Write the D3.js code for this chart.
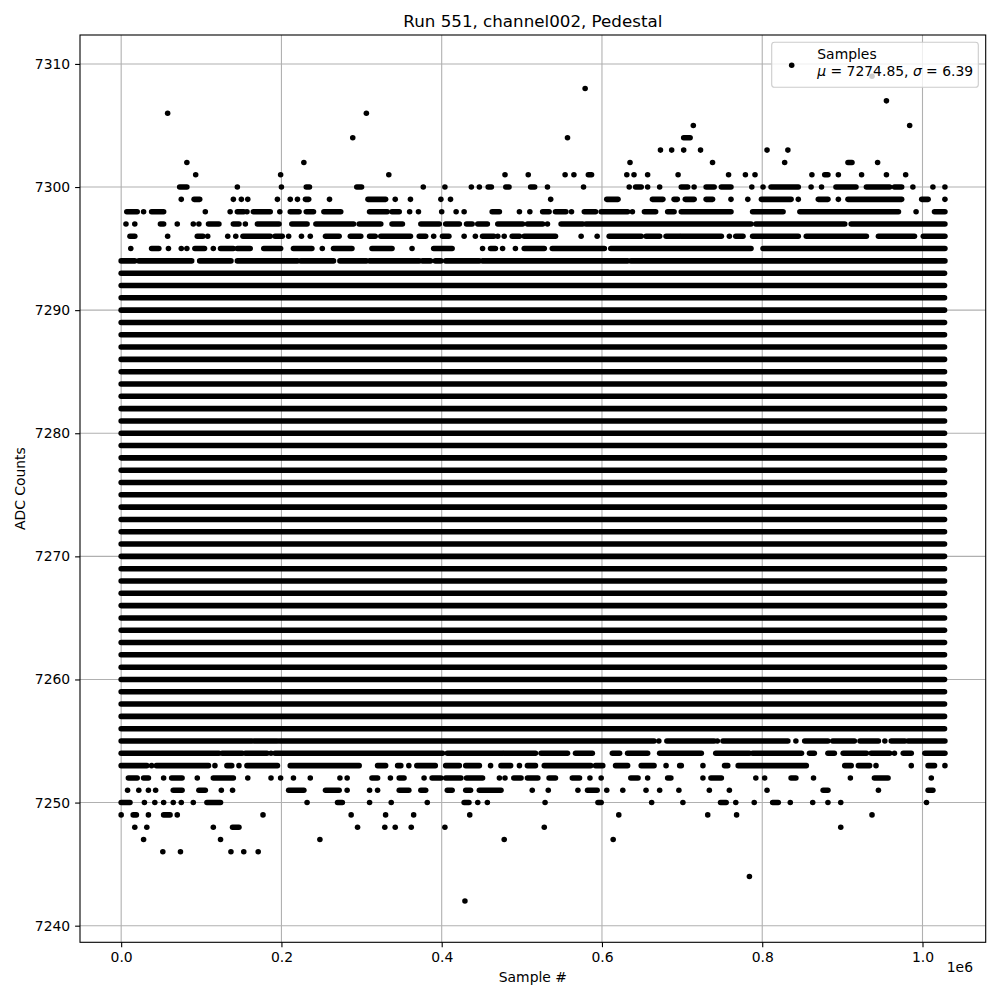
<!DOCTYPE html>
<html>
<head>
<meta charset="utf-8">
<script src="https://cdn.jsdelivr.net/npm/d3@7"></script>
<style>
  html, body { margin: 0; padding: 0; background: #fff; }
  svg { display: block; font-family: "DejaVu Sans", sans-serif; }
</style>
</head>
<body>
<svg id="chart" width="1000" height="1000"></svg>
<script>
// ---------------- DATA ----------------
const titleText = "Run 551, channel002, Pedestal";
const xLabel = "Sample #";
const yLabel = "ADC Counts";
const seriesName = "Samples";
const meanValue = 7274.85;
const sigmaValue = 6.39;

// first and last sample index, in thousands of samples
const sampleRangeK = [0, 1027.5];

// ADC levels that are hit continuously over the whole run
const denseLevels = [7256, 7257, 7258, 7259, 7260, 7261, 7262, 7263, 7264, 7265,
  7266, 7267, 7268, 7269, 7270, 7271, 7272, 7273, 7274, 7275, 7276, 7277, 7278,
  7279, 7280, 7281, 7282, 7283, 7284, 7285, 7286, 7287, 7288, 7289, 7290, 7291,
  7292, 7293];

// ADC levels that are hit only sometimes (sample index in thousands; [a,b] = run of samples)
const sparseLevels = [7309, 7308, 7307, 7306, 7305, 7304, 7303, 7302, 7301, 7300,
  7299, 7298, 7297, 7296, 7295, 7294, 7255, 7254, 7253, 7252, 7251, 7250, 7249,
  7248, 7247, 7246, 7244, 7242];

const sparseSamplesK = [
  [937],
  [579],
  [955],
  [58, 306],
  [714, 984],
  [289, 557, [702, 710]],
  [673, 687, 702, 723, 806, 832],
  [82, 228, 635, 738, 828, [907, 912], 944],
  [93, 199, 334, 479, 508, 554, 565, [583, 587], 631, 640, 657, 695, 758, 779, 791, 862, [878, 882], 895, 924, 955, 979],
  [[73, 82], 145, 200, [231, 235], [294, 300], 377, 404, 437, 447, [458, 462], [480, 484], [511, 516], 532, 577, 634,
   [642, 649], 657, 672, [699, 707], 715, [730, 740], [749, 761], 787, 801, [811, 845], 861, 874, [892, 917], [930, 959],
   [965, 974], 988, 1013, 1028],
  [75, [91, 98], 140, 150, 158, 195, 211, 220, [230, 234], 260, [308, 330], 342, 361, 399, 411, 536, [606, 620], [663, 676],
   [690, 694], [704, 715], [730, 738], 761, 782, [799, 836], 845, [870, 882], 895, [907, 974], [999, 1007], 1028],
  [[7, 20], 28, [38, 53], 105, 136, [145, 153], 157, [165, 186], 198, [211, 222], [231, 240], [253, 274], [310, 332], [338, 347],
   360, 371, 400, 418, 428, [463, 472], 497, 510, [526, 534], [542, 555], 562, [578, 592], [599, 632], 638, [653, 667],
   [682, 690], [699, 761], [788, 826], [847, 970], 992, [1015, 1028]],
  [6, 17, [49, 53], 70, 90, 97, [109, 122], [140, 147], 155, [170, 197], [213, 232], [243, 290], [297, 324], [338, 351],
   [374, 397], [405, 422], [431, 438], [445, 457], [470, 501], [507, 526], 532, [549, 576], [580, 786], [792, 903], [911, 1028]],
  [[11, 17], 58, [95, 102], 108, 133, 143, [152, 186], [192, 201], 209, 225, 236, [255, 272], [286, 299], [310, 317],
   [324, 361], [372, 380], 390, [401, 409], 428, 442, [451, 465], 470, 478, [488, 497], [503, 542], 574, 594, [609, 649],
   [655, 672], [680, 697], [699, 749], 759, [767, 776], [788, 845], [855, 930], [945, 990], [1001, 1028]],
  [12, [38, 47], 59, 75, 82, [92, 104], 115, [124, 140], [145, 161], [178, 199], [215, 238], 251, [265, 288], [313, 338],
   363, [390, 413], 451, [461, 467], 476, 492, [503, 528], [538, 603], [611, 786], [801, 1028]],
  [[0, 17], [22, 88], [98, 137], [145, 220], [224, 265], [273, 306], [310, 372], [376, 386], [392, 399], [405, 447],
   [451, 632], [636, 1028]],
  [[0, 163], [166, 195], [198, 665], 671, [681, 740], 744, [751, 832], 842, [853, 882], [888, 915], [922, 945], 953,
   [961, 978], [982, 1028]],
  [[0, 122], [126, 151], [155, 182], 187, [192, 401], [407, 476], [478, 517], [524, 557], [567, 588], [613, 622],
   [632, 657], [672, 724], [742, 784], [788, 849], [859, 865], [882, 890], [901, 930], [936, 959], 965, [976, 986], [1003, 1028]],
  [[0, 32], 38, [44, 109], 117, [132, 138], 147, [157, 195], [211, 297], [320, 330], [345, 349], 359, [369, 392], [405, 422],
   [430, 447], 461, [474, 486], 497, [507, 517], [528, 586], [592, 601], [617, 632], [649, 665], 680, [697, 699], 726,
   [753, 757], [770, 855], [903, 911], [920, 934], 942, 986, [1007, 1015], 1028],
  [[9, 20], [28, 34], 53, [63, 76], 95, [115, 140], 158, 187, 199, 215, 236, 273, 282, [313, 320], 336, [347, 353], 378,
   [388, 399], [405, 424], [431, 451], 472, 479, [490, 499], [507, 520], [534, 542], [563, 572], 585, 599, [636, 645], 657,
   [682, 686], 726, [736, 749], 792, 803, [836, 842], 864, 910, [940, 957], 1011],
  [8, 22, 34, 43, [65, 76], [97, 105], 125, 139, [209, 228], [255, 272], 282, 310, 320, [347, 359], [374, 380], [407, 413],
   [430, 436], [447, 474], 513, 533, 570, [582, 594], 606, 626, 655, 672, 696, 734, 759, 806, [876, 882], 945, [1007, 1013]],
  [[0, 11], 29, 42, 53, 65, 75, 90, [107, 124], 232, [270, 276], 310, 337, 382, [428, 434], 445, 457, 529, [595, 599], 662,
   701, [748, 755], 767, 790, [813, 820], 835, 863, 882, 898, 1005],
  [0, [15, 19], 34, [53, 61], 70, 177, 287, 330, 365, 435, 621, 732, 768, 937],
  [17, 32, 115, [139, 147], 295, 329, 342, 362, 404, 528, 898],
  [28, 124, 248, 478, 614],
  [52, 74, 137, 153, 171],
  [784],
  [429]
];

const xTicks = [0, 200000, 400000, 600000, 800000, 1000000];
const xTickLabels = ["0.0", "0.2", "0.4", "0.6", "0.8", "1.0"];
const xOffsetLabel = "1e6";
const yTicks = [7240, 7250, 7260, 7270, 7280, 7290, 7300, 7310];

// ---------------- LAYOUT ----------------
const svg = d3.select("#chart");
const plot = { left: 80, right: 985.7, top: 35, bottom: 942.3 };
const markerR = 2.78;
const ink = "#000";

const allLevels = denseLevels.concat(sparseLevels);
const xMin = sampleRangeK[0] * 1000, xMax = sampleRangeK[1] * 1000;
const xPad = (xMax - xMin) * 0.05;
const yMin = d3.min(allLevels), yMax = d3.max(allLevels);
const yPad = (yMax - yMin) * 0.05;

const x = d3.scaleLinear().domain([xMin - xPad, xMax + xPad]).range([plot.left, plot.right]);
const y = d3.scaleLinear().domain([yMin - yPad, yMax + yPad]).range([plot.bottom, plot.top]);

// grid
const grid = svg.append("g");
grid.selectAll("line.gx").data(xTicks).join("line")
  .attr("x1", d => x(d)).attr("x2", d => x(d))
  .attr("y1", plot.top).attr("y2", plot.bottom)
  .attr("stroke", "#b0b0b0").attr("stroke-width", 1.1);
grid.selectAll("line.gy").data(yTicks).join("line")
  .attr("x1", plot.left).attr("x2", plot.right)
  .attr("y1", d => y(d)).attr("y2", d => y(d))
  .attr("stroke", "#b0b0b0").attr("stroke-width", 1.1);

// clip
svg.append("clipPath").attr("id", "clip").append("rect")
  .attr("x", plot.left).attr("y", plot.top)
  .attr("width", plot.right - plot.left).attr("height", plot.bottom - plot.top);
const marks = svg.append("g").attr("clip-path", "url(#clip)");

// dense bands
marks.selectAll("line.dense").data(denseLevels).join("line")
  .attr("x1", x(xMin)).attr("x2", x(xMax))
  .attr("y1", d => y(d)).attr("y2", d => y(d))
  .attr("stroke", ink).attr("stroke-width", markerR * 2).attr("stroke-linecap", "round");

// sparse samples
const runs = [], singles = [];
sparseLevels.forEach((lev, i) => {
  sparseSamplesK[i].forEach(s => {
    if (Array.isArray(s)) runs.push({ lev, a: s[0] * 1000, b: s[1] * 1000 });
    else singles.push({ lev, a: s * 1000 });
  });
});
marks.selectAll("line.run").data(runs).join("line")
  .attr("x1", d => x(d.a)).attr("x2", d => x(d.b))
  .attr("y1", d => y(d.lev)).attr("y2", d => y(d.lev))
  .attr("stroke", ink).attr("stroke-width", markerR * 2).attr("stroke-linecap", "round");
marks.selectAll("circle.single").data(singles).join("circle")
  .attr("cx", d => x(d.a)).attr("cy", d => y(d.lev)).attr("r", markerR)
  .attr("fill", ink);

// frame
svg.append("rect")
  .attr("x", plot.left).attr("y", plot.top)
  .attr("width", plot.right - plot.left).attr("height", plot.bottom - plot.top)
  .attr("fill", "none").attr("stroke", "#000").attr("stroke-width", 1.1);

// axes
const xAxis = d3.axisBottom(x).tickValues(xTicks)
  .tickFormat((d, i) => xTickLabels[i]).tickSize(4.9).tickPadding(4.9);
const gx = svg.append("g").attr("transform", `translate(0,${plot.bottom})`).call(xAxis);
const yAxis = d3.axisLeft(y).tickValues(yTicks).tickFormat(d3.format("d")).tickSize(4.9).tickPadding(4.9);
const gy = svg.append("g").attr("transform", `translate(${plot.left},0)`).call(yAxis);
[gx, gy].forEach(g => {
  g.select(".domain").remove();
  g.selectAll(".tick line").attr("stroke", "#000").attr("stroke-width", 1.1);
  g.selectAll(".tick text").attr("fill", "#000")
    .style("font-family", "'DejaVu Sans', sans-serif").style("font-size", "13.9px");
});

svg.append("text").attr("x", 973).attr("y", 972)
  .attr("text-anchor", "end").style("font-size", "13.9px").text(xOffsetLabel);

// labels
svg.append("text").attr("x", (plot.left + plot.right) / 2).attr("y", 982)
  .attr("text-anchor", "middle").style("font-size", "13.9px").text(xLabel);
svg.append("text")
  .attr("transform", `translate(25,${(plot.top + plot.bottom) / 2}) rotate(-90)`)
  .attr("text-anchor", "middle").style("font-size", "13.9px").text(yLabel);
svg.append("text").attr("x", (plot.left + plot.right) / 2).attr("y", 27)
  .attr("text-anchor", "middle").style("font-size", "16.7px").text(titleText);

// legend
const lg = svg.append("g");
lg.append("rect").attr("x", 771.7).attr("y", 42.3).attr("width", 206.6).attr("height", 45)
  .attr("rx", 2.8).attr("ry", 2.8)
  .attr("fill", "#fff").attr("fill-opacity", 0.8)
  .attr("stroke", "#cccccc").attr("stroke-width", 1.1);
lg.append("circle").attr("cx", 791.7).attr("cy", 65.3).attr("r", markerR).attr("fill", ink);
lg.append("text").attr("x", 817.3).attr("y", 59).style("font-size", "13.9px").text(seriesName);
const t2 = lg.append("text").attr("x", 817.3).attr("y", 75.5).style("font-size", "13.9px");
t2.append("tspan").style("font-style", "italic").text("μ");
t2.append("tspan").text(` = ${meanValue.toFixed(2)}, `);
t2.append("tspan").style("font-style", "italic").text("σ");
t2.append("tspan").text(` = ${sigmaValue.toFixed(2)}`);
</script>
</body>
</html>
